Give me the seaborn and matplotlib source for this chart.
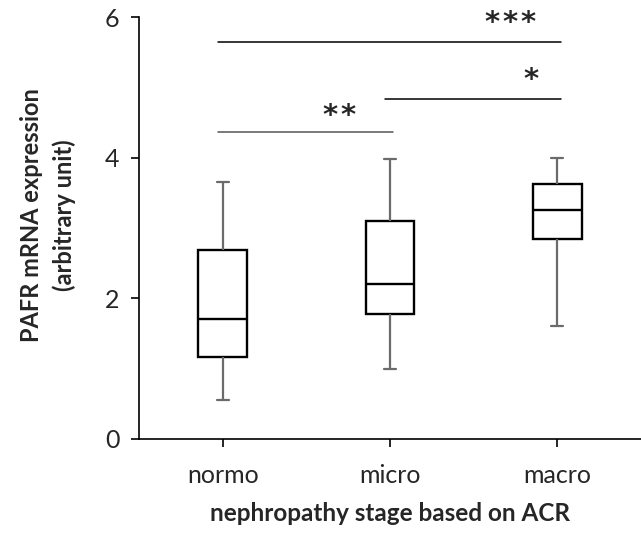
import numpy as np
import pandas as pd
import matplotlib
matplotlib.use("Agg")
import matplotlib.pyplot as plt
import seaborn as sns

# box summary: min, q1, median, q3, max
stages = ["normo", "micro", "macro"]
normo_vals = [0.56, 1.16, 1.70, 2.69, 3.66]
micro_vals = [1.00, 1.77, 2.21, 3.10, 3.98]
macro_vals = [1.61, 2.84, 3.25, 3.63, 4.00]

# significance bars: (from group, to group, line height, label, label x, label y, line colour)
sig_bars = [
    (0, 2, 5.65, "*\u200a*\u200a*", 1.72, 6.00, "black"),
    (1, 2, 4.84, "*", 1.84, 5.19, "black"),
    (0, 1, 4.36, "*\u200a*", 0.70, 4.68, "#555555"),
]

df = pd.DataFrame({
    "stage": np.repeat(stages, 5),
    "value": normo_vals + micro_vals + macro_vals,
})

sns.set_style("white")
plt.rcParams["font.family"] = ["Lato", "DejaVu Sans"]

fig = plt.figure(figsize=(6.41, 5.34), dpi=100)
ax = fig.add_axes([0.2168, 0.178, 0.7832, 0.79])

# five values per group -> whiskers at min/max with whis=(0, 100)
sns.boxplot(
    data=df, x="stage", y="value", order=stages,
    whis=(0, 100), width=0.29, color="white", linecolor="black",
    linewidth=1.7, showfliers=False, ax=ax,
    whiskerprops=dict(color="#6b6b6b", linewidth=1.6),
    capprops=dict(color="#6b6b6b", linewidth=1.6),
    medianprops=dict(color="black", linewidth=1.7),
)

# narrow the whisker caps (short horizontal grey lines)
for ln in ax.lines:
    xd, yd = np.asarray(ln.get_xdata(), float), np.asarray(ln.get_ydata(), float)
    if len(xd) == 2 and yd[0] == yd[1] and ln.get_color() == "#6b6b6b":
        mid = xd.mean()
        ln.set_xdata([mid - 0.036, mid + 0.036])

# significance lines and stars
for x0, x1, h, lab, lx, ly, col in sig_bars:
    ax.plot([x0 - 0.03, x1 + 0.02], [h, h], color=col, lw=1.1)
    ax.text(lx, ly - 0.2, lab, ha="center", va="baseline",
            fontsize=21, family="DejaVu Sans", fontweight="bold")

ax.set_xlim(-0.5, 2.5)
ax.set_ylim(0, 6)
ax.set_yticks([0, 2, 4, 6])
ax.spines["top"].set_visible(False)
ax.spines["right"].set_visible(False)
for s in ["left", "bottom"]:
    ax.spines[s].set_color("black")
    ax.spines[s].set_linewidth(1.2)
ax.tick_params(axis="both", direction="out", length=6, width=1.2,
               color="black", labelsize=18, left=True, bottom=True)
ax.tick_params(axis="x", pad=12)
ax.tick_params(axis="y", pad=8)

ax.set_xlabel("nephropathy stage based on ACR", fontsize=17.5,
              fontweight="bold", labelpad=11)
ax.set_ylabel("PAFR mRNA expression\n(arbitrary unit)", fontsize=17,
              fontweight="bold", linespacing=1.5)
ax.yaxis.set_label_coords(-0.125, 0.53)

fig.savefig("out.png", dpi=100)
